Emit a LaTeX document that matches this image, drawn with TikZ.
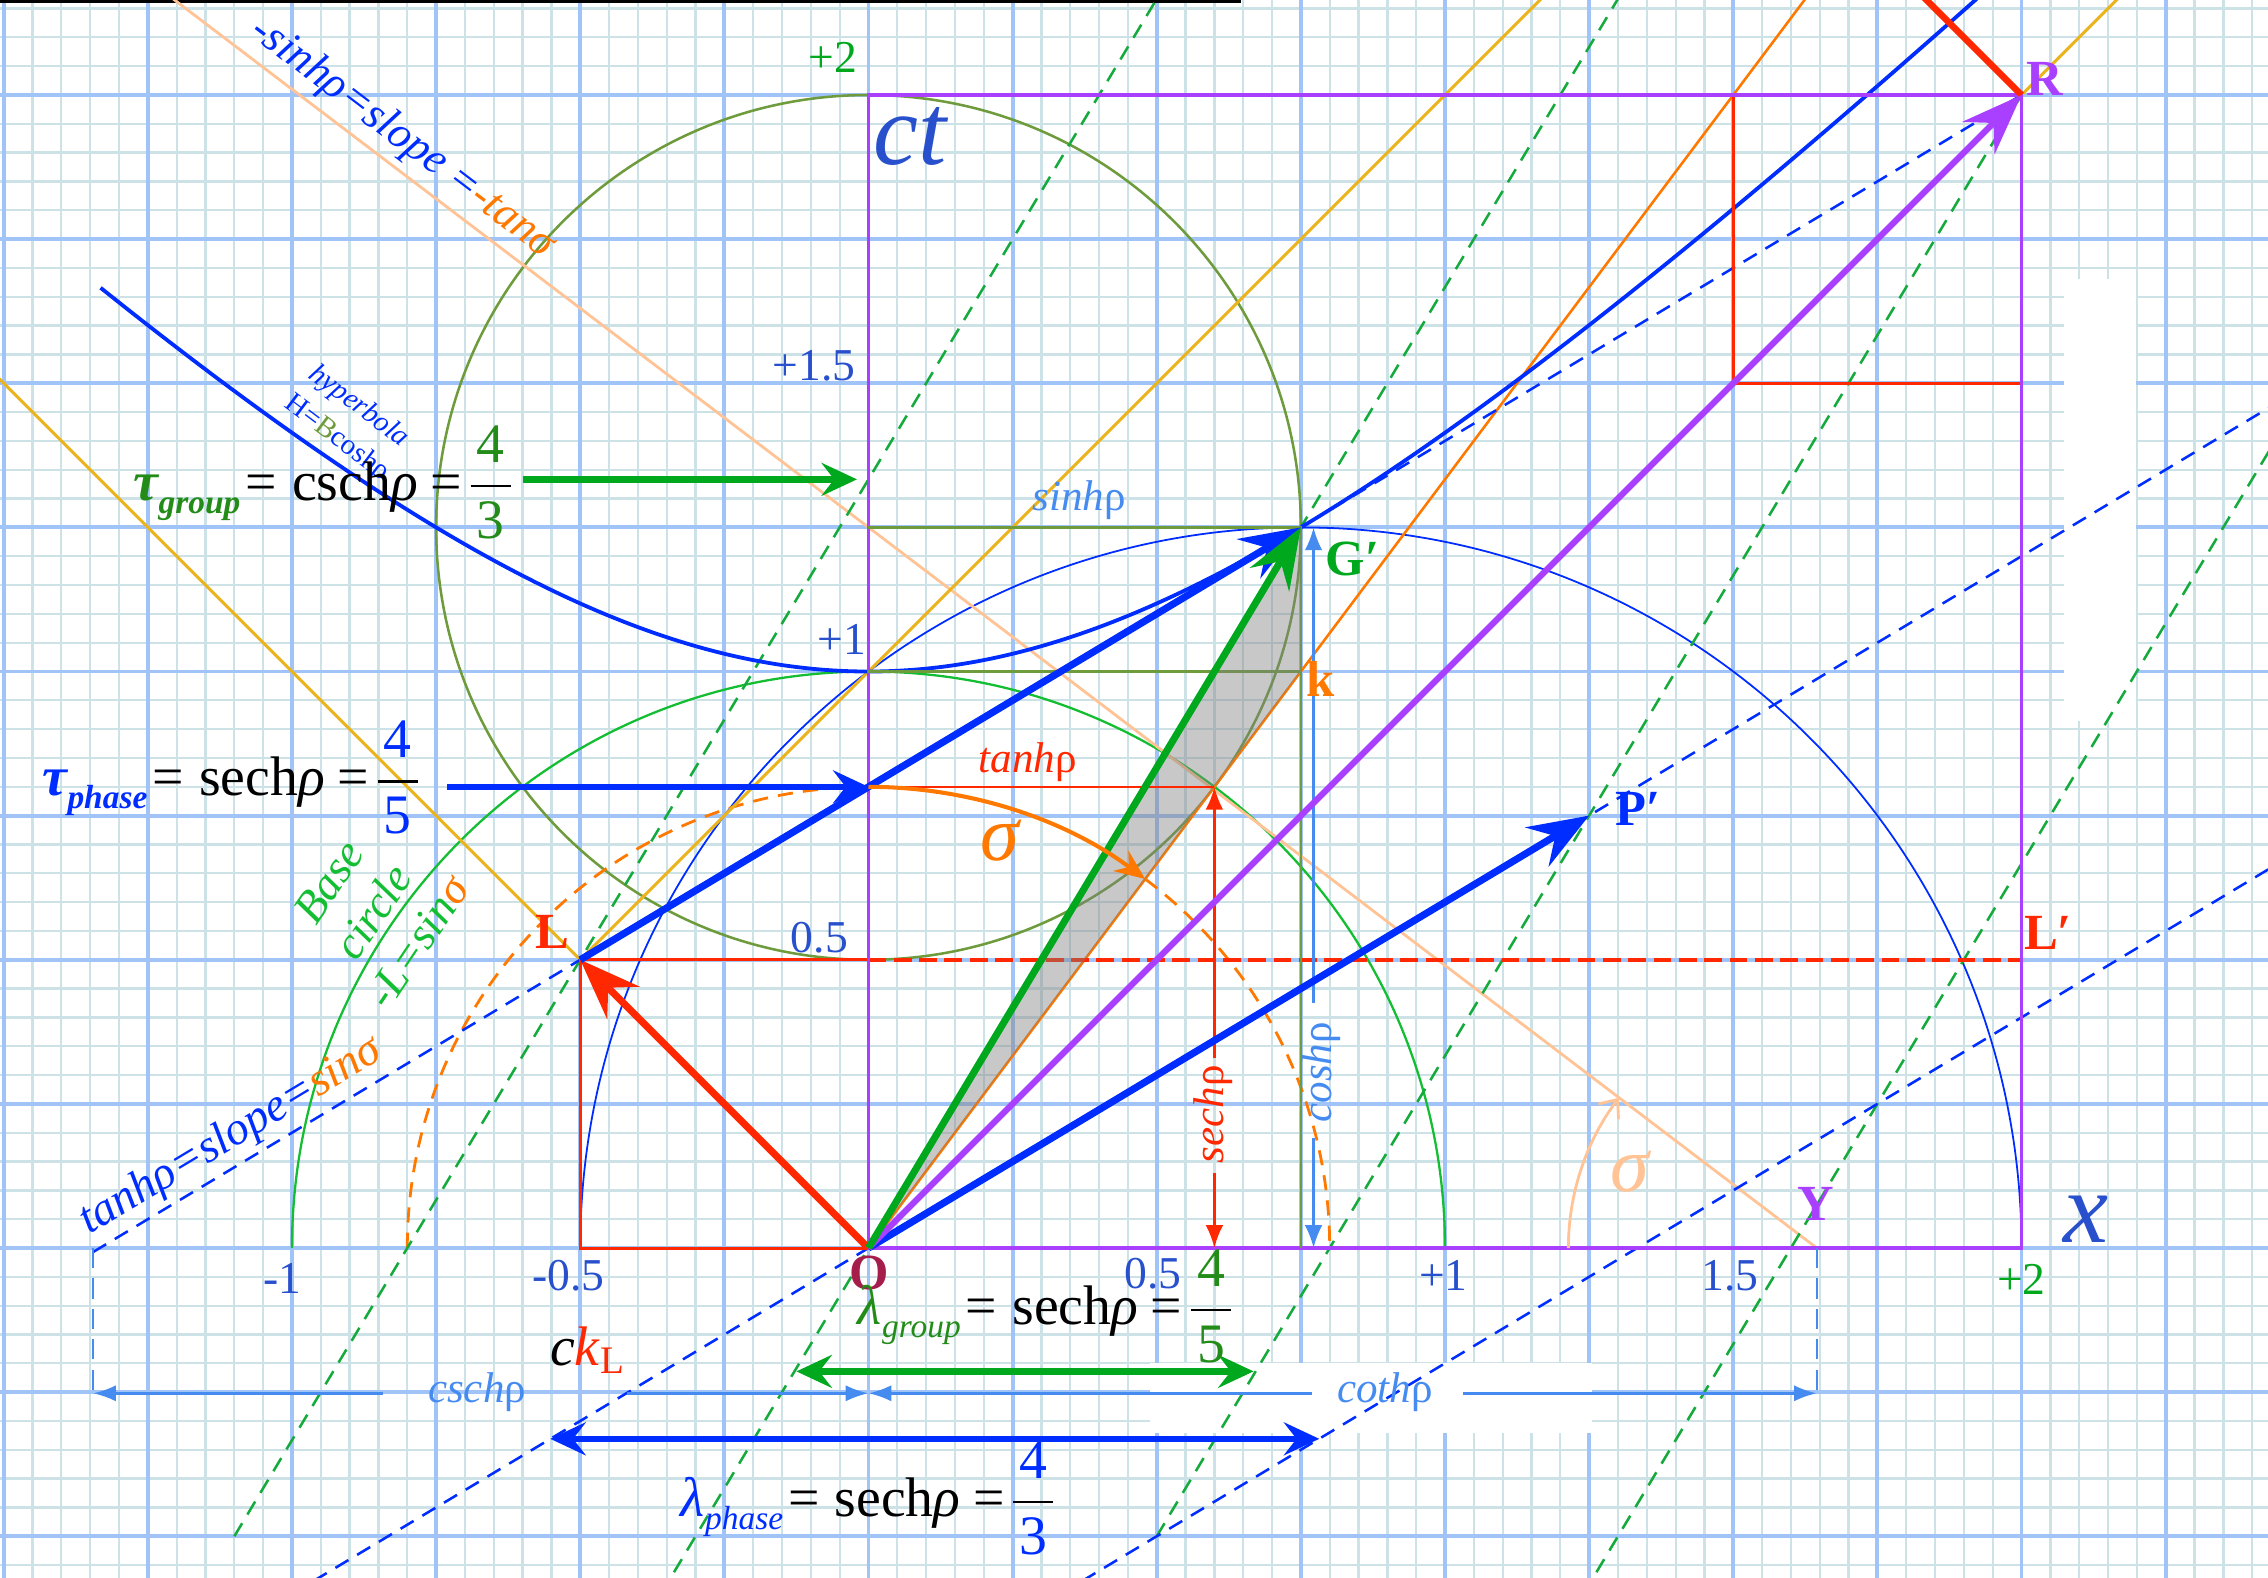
\documentclass[tikz,border=0pt]{standalone}
\usepackage{amsmath}
\usepackage{fontspec}
\setmainfont{Liberation Serif}
\usetikzlibrary{arrows.meta}
\definecolor{gminor}{RGB}{204,226,231}
\definecolor{gmajor}{RGB}{160,196,248}
\definecolor{vpurple}{RGB}{170,64,255}
\definecolor{vblue}{RGB}{0,45,255}
\definecolor{lblue}{RGB}{70,140,240}
\definecolor{tblue}{RGB}{40,80,205}
\definecolor{vgreen}{RGB}{0,168,30}
\definecolor{bgreen}{RGB}{20,190,50}
\definecolor{dgreen}{RGB}{20,170,60}
\definecolor{eqgreen}{RGB}{35,140,25}
\definecolor{olv}{RGB}{110,155,60}
\definecolor{vorange}{RGB}{255,120,0}
\definecolor{peach}{RGB}{255,195,150}
\definecolor{vyellow}{RGB}{235,180,30}
\definecolor{vred}{RGB}{255,40,0}
\definecolor{mar}{RGB}{165,30,75}
\newcommand{\myfs}[1]{\fontsize{#1}{#1}\selectfont}
\newcommand{\myeq}[7]{{\color{#1}#7{#2}\raisebox{-2.6pt}{\myfs{6.6}\itshape #3}}\kern1pt=\kern3pt#4\textit{ρ}\kern2.5pt=\kern0.5pt$\dfrac{\mkern2mu\text{\color{#1}#5}\mkern2mu}{\mkern2mu\text{\color{#1}#6}\mkern2mu}$}
\begin{document}
\begin{tikzpicture}[x=4cm,y=4cm,
  bigarrow/.style={line width=1.4pt,-{Stealth[length=12pt,width=9pt,inset=4.2pt]}},
  midarrow/.style={line width=1.3pt,-{Stealth[length=7pt,width=6.5pt,inset=2.5pt]}},
  dblarrow/.style={line width=1.3pt,{Stealth[length=7pt,width=6.5pt,inset=2.5pt]}-{Stealth[length=7pt,width=6.5pt,inset=2.5pt]}},
  dimarrow/.style={lblue,line width=0.55pt,-{Latex[length=4.5pt,width=3.2pt]}},
  dimext/.style={lblue,line width=0.5pt,dash pattern=on 4pt off 2pt},
  gdash/.style={dgreen,line width=0.5pt,dash pattern=on 3pt off 2pt},
  bdash/.style={vblue,line width=0.5pt,dash pattern=on 3pt off 2pt},
  odash/.style={vorange,line width=0.55pt,dash pattern=on 3pt off 2pt},
  ticklab/.style={tblue,font=\myfs{9}},
  ptl/.style={font=\bfseries\myfs{10}},
  lab/.style={font=\myfs{8.5}},
  eqn/.style={font=\myfs{11},anchor=base west,inner sep=0pt},
  sharrow/.style={line width=0.55pt,-{Latex[length=4.5pt,width=3.5pt]}}
]
\path[use as bounding box] (-1.5065,-0.5707) rectangle (2.4276,2.1648);
\clip (-1.5065,-0.5707) rectangle (2.4276,2.1648);

% grid paper
\draw[gminor,line width=0.45pt] (-1.55,-0.6) grid[step=0.05] (2.45,2.2);
\draw[gmajor,line width=0.75pt] (-1.75,-0.75) grid[step=0.25] (2.5,2.25);
\fill[white] (2.074,0.914) rectangle (2.198,1.681);
\fill[white] (0.488,-0.199) rectangle (1.255,-0.32);
\draw[black,line width=0.7pt] (-1.52,2.162) -- (0.647,2.162);

% key points
\coordinate (O) at (0,0);
\coordinate (L) at (-0.5,0.5);
\coordinate (G) at (0.75,1.25);
\coordinate (R) at (2,2);
\coordinate (P) at (1.25,0.75);
\coordinate (K) at (0.75,1);
\coordinate (Y) at (1.645,0);
\coordinate (Lp) at (2,0.5);
\coordinate (T8) at (0,0.8);
\coordinate (S) at (0.48,0.64);
\coordinate (Q) at (0.6,0.8);
\coordinate (A1) at (0,1);
\coordinate (A125) at (0,1.25);
\coordinate (A05) at (0,0.5);
\coordinate (G0) at (0.75,0);
\coordinate (RT) at (1.5,2.5);

% circles
\draw[olv,line width=0.5pt] (A125) circle[radius=0.75];
\draw[bgreen,line width=0.45pt] (1,0) arc[start angle=0,end angle=180,radius=1];
\draw[vblue,line width=0.35pt] (2,0) arc[start angle=0,end angle=180,radius=1.25];
\draw[odash] (S) arc[start angle=53.13,end angle=0,radius=0.8];
\draw[odash] (T8) arc[start angle=90,end angle=180,radius=0.8];

% straight reference lines
\draw[peach,line width=0.55pt] (-1.25,2.2) -- (Y);
\draw[vyellow,line width=0.6pt] (-1.7,1.7) -- (O);
\draw[vyellow,line width=0.6pt] (L) -- (1.25,2.25);
\draw[vyellow,line width=0.6pt] (O) -- (2.25,2.25);
\draw[vorange,line width=0.5pt] (O) -- (1.7,2.2667);

% green dashed (slope 5/3)
\draw[gdash] (-1.1,-0.5) -- (0.55,2.25);
\draw[gdash] (-0.36,-0.6) -- (1.35,2.25);
\draw[gdash] (0.5,-0.5) -- (R);
\draw[gdash] (1.24,-0.6) -- (2.6,1.6667);
% blue dashed (slope 0.6)
\draw[bdash] (-1.345,-0.007) -- (R);
\draw[bdash] (-1,-0.6) -- (2.5,1.5);
\draw[bdash] (0.3333,-0.6) -- (2.5,0.7);

% hyperbola
\draw[vblue,line width=0.75pt,domain=-1.332:1.95,samples=120,smooth] plot (\x,{sqrt(1+\x*\x)});

% squares
\draw[vred,line width=0.6pt] (-0.5,0) rectangle (A05);
\draw[vred,line width=0.6pt] (1.5,1.5) rectangle (R);
\draw[vred,line width=0.8pt,dash pattern=on 3.5pt off 1.5pt] (A05) -- (Lp);
\draw[vpurple,line width=0.75pt] (O) rectangle (R);

% olive helper lines
\draw[olv,line width=0.5pt] (A125) -- (G) -- (G0);
\draw[olv,line width=0.5pt] (A1) -- (K);
\fill[gray,opacity=0.43] (O) -- (G) -- (K) -- cycle;

% tanh / sech / cosh
\draw[vred,line width=0.5pt] (T8) -- (Q);
\draw[vred,sharrow] (0.6,0.33) -- (Q);
\draw[vred,sharrow] (0.6,0.13) -- (0.6,0);
\draw[lblue,sharrow] (0.772,0.425) -- (0.772,1.25);
\draw[lblue,sharrow] (0.772,0.19) -- (0.772,0);

% main vectors
\draw[bigarrow,vred] (O) -- (L);
\draw[vred,line width=1.3pt] (R) -- (RT);
\draw[bigarrow,vblue] (L) -- (G);
\draw[bigarrow,vblue] (O) -- (P);
\draw[bigarrow,vpurple,line width=1.2pt] (O) -- (R);
\draw[bigarrow,vgreen] (O) -- (G);
\draw[vorange,line width=0.8pt,-{Stealth[length=6pt,width=5pt,inset=2pt]}] (T8) arc[start angle=90,end angle=53.13,radius=0.8];
\draw[peach,line width=0.55pt,-{Straight Barb[length=3pt,width=5pt]}] (1.214,0) arc[start angle=180,end angle=142.8,radius=0.431];

% tau / lambda arrows
\coordinate (tg1) at (-0.6,1.3333); \coordinate (tg2) at (-0.02,1.3333);
\coordinate (tp1) at (-0.731,0.8); \coordinate (tp2) at (0,0.8);
\coordinate (lg1) at (-0.125,-0.214); \coordinate (lg2) at (0.668,-0.214);
\coordinate (lp1) at (-0.552,-0.331); \coordinate (lp2) at (0.782,-0.331);
\draw[midarrow,vgreen] (tg1) -- (tg2);
\draw[midarrow,vblue] (tp1) -- (tp2);
\draw[dblarrow,vgreen] (lg1) -- (lg2);
\draw[dblarrow,vblue] (lp1) -- (lp2);

% dimension lines
\coordinate (dL) at (-1.345,-0.252); \coordinate (d0) at (0,-0.252); \coordinate (dY) at (1.645,-0.252);
\coordinate (dLt) at (-1.345,0);
\draw[dimext] (dLt) -- (dL);
\draw[dimext] (Y) -- (dY);
\draw[dimarrow] (-0.842,-0.252) -- (dL);
\draw[dimarrow] (-0.419,-0.252) -- (d0);
\draw[dimarrow] (0.770,-0.252) -- (d0);
\draw[dimarrow] (1.031,-0.252) -- (dY);

% labels
\node[lblue,lab] (cschl) at (-0.679,-0.25) {\textit{csch}ρ};
\node[lblue,lab] (cothl) at (0.896,-0.25) {\textit{coth}ρ};
\node[vred,lab,rotate=90] (sechl) at (0.598,0.232) {\textit{sech}ρ};
\node[lblue,lab,rotate=90] (coshl) at (0.785,0.305) {\textit{cosh}ρ};
\node[lblue,lab] (sinhl) at (0.365,1.297) {\textit{sinh}ρ};
\node[vred,lab] (tanhl) at (0.2765,0.843) {\textit{tanh}ρ};
\node[vorange,font=\itshape\myfs{15.5}] (sig1) at (0.227,0.706) {σ};
\node[peach,font=\itshape\myfs{15.5}] (sig2) at (1.321,0.132) {σ};

\node[vblue,rotate=-37.2,font=\itshape\myfs{8.8}] (slopel) at (-0.808,1.925) {-sinhρ=slope =\color{vorange}-tanσ};
\node[vblue,rotate=31,font=\itshape\myfs{9.2}] (tslopel) at (-1.105,0.193) {tanhρ=slope={\color{vorange}sinσ}};
\node[bgreen,rotate=56,align=center,font=\itshape\fontsize{9}{10.6}\selectfont] (basel) at (-0.859,0.583) {Base\\circle\\-L=sin{\color{vorange}σ}};
\node[vblue,rotate=-37,font=\itshape\myfs{5.7}] (hyp1) at (-0.884,1.459) {hyperbola};
\node[vblue,rotate=-37,font=\myfs{5.7}] (hyp2) at (-0.922,1.404) {H={\color{olv}B}coshρ};

\node[tblue,font=\itshape\myfs{20},anchor=base] (ctl) at (0.072,1.879) {ct};
\node[tblue,font=\itshape\myfs{20},anchor=base] (xl) at (2.112,0.0104) {x};

\node[vred,ptl] (Ll) at (-0.548,0.549) {L};
\node[vred,ptl] (Lpl) at (2.046,0.546) {L′};
\node[vpurple,ptl] (Rl) at (2.04,2.028) {R};
\node[vblue,ptl] (Pl) at (1.335,0.762) {P′};
\node[vgreen,ptl] (Gl) at (0.84,1.196) {G′};
\node[vorange,ptl] (kl) at (0.784,0.988) {k};
\node[vpurple,ptl] (Yl) at (1.643,0.0757) {Y};
\node[mar,ptl] (Ol) at (0.001,-0.043) {O};

\node[ticklab] (xm1) at (-1.016,-0.052) {-1};
\node[ticklab] (xm05) at (-0.52,-0.048) {-0.5};
\node[ticklab] (x05) at (0.493,-0.045) {0.5};
\node[ticklab] (x1) at (0.997,-0.048) {+1};
\node[ticklab] (x15) at (1.494,-0.048) {1.5};
\node[ticklab,vgreen] (x2) at (2.0,-0.054) {+2};
\node[ticklab,vgreen] (y2) at (-0.062,2.066) {+2};
\node[ticklab] (y15) at (-0.094,1.53) {+1.5};
\node[ticklab] (y1) at (-0.046,1.055) {+1};
\node[ticklab] (y05) at (-0.085,0.538) {0.5};

\node[font=\myfs{11}] (ckl) at (-0.486,-0.177) {\textit{c}{\color{vred}\textit{k}\textsubscript{L}}};

% equations
\node[eqn] (taug) at (-1.276,1.2975) {\myeq{eqgreen}{τ}{group}{csch}{4}{3}{\bfseries\itshape}};
\node[eqn] (taup) at (-1.434,0.785) {\myeq{vblue}{τ}{phase}{sech}{4}{5}{\bfseries\itshape}};
\node[eqn] (lamg) at (-0.02,-0.132) {\myeq{eqgreen}{λ}{group}{sech}{4}{5}{\itshape}};
\node[eqn] (lamp) at (-0.327,-0.465) {\myeq{vblue}{λ}{phase}{sech}{4}{3}{\itshape}};
\end{tikzpicture}
\end{document}
